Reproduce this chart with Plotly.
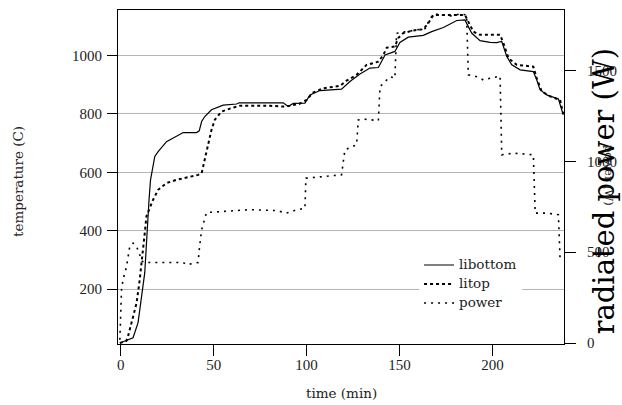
import plotly.graph_objects as go

# ---- data ----
time_bottom = [-0.5, 6.6, 9.3, 11.1, 12.9, 15.2, 16.0, 18.3, 20.1, 24.6, 30.0, 33.6, 40.8, 42.2, 43.5,
               45.2, 48.8, 51.5, 55.1, 62.3, 63.7, 87.4, 90.1, 92.8, 96.4, 99.1, 101.8, 107.2, 118.8,
               123.3, 128.7, 134.1, 138.6, 142.2, 147.5, 150.2, 154.7, 162.8, 167.3, 173.6, 180.8,
               185.2, 187.0, 188.8, 193.3, 198.7, 202.3, 205.0, 207.7, 210.4, 214.9, 222.0, 223.8,
               225.6, 229.2, 235.5, 237.8]
temp_bottom = [15, 33, 85, 175, 256, 506, 574, 654, 671, 705, 725, 736, 736, 742, 774,
               791, 814, 822, 830, 834, 838, 838, 825, 836, 838, 837, 865, 880, 885,
               911, 937, 957, 959, 1002, 1014, 1045, 1063, 1069, 1082, 1096, 1120,
               1122, 1099, 1077, 1051, 1045, 1044, 1048, 997, 968, 951, 945, 917,
               883, 865, 851, 803]

time_top = [-0.5, 3.0, 3.9, 5.8, 8.5, 10.2, 11.7, 12.9, 13.8, 17.4, 20.1, 24.6, 30.0, 36.3, 41.6,
            43.5, 45.2, 47.0, 48.8, 50.6, 54.2, 60.5, 64.1, 80.2, 87.0, 91.0, 96.0, 100.0, 103.5,
            109.0, 118.0, 121.5, 126.9, 132.3, 138.6, 141.3, 143.1, 147.5, 149.3, 152.0, 157.4,
            162.8, 165.5, 168.2, 173.6, 179.0, 185.2, 187.0, 189.7, 193.3, 204.1, 205.9, 208.6,
            213.1, 222.0, 223.8, 226.5, 231.0, 236.4, 238.2]
temp_top = [15, 22, 38, 84, 152, 232, 312, 392, 449, 506, 540, 563, 574, 582, 591,
            597, 643, 700, 745, 780, 808, 822, 828, 828, 825, 828, 834, 848, 873,
            888, 896, 914, 934, 968, 979, 1002, 1027, 1031, 1060, 1077, 1086,
            1090, 1111, 1139, 1139, 1139, 1139, 1116, 1082, 1071, 1071, 1042, 991,
            968, 962, 923, 877, 860, 848, 797]

time_power = [-0.5, 0.4, 1.2, 3.1, 4.8, 6.6, 8.5, 10.2, 11.5, 12.9, 33.6, 35.4, 41.6, 42.4, 43.5,
              46.1, 56.9, 69.5, 83.8, 89.2, 94.6, 99.1, 99.6, 107.2, 118.8, 120.6, 126.9, 127.8,
              131.4, 138.6, 139.5, 144.9, 147.5, 148.4, 153.8, 159.2, 164.6, 165.5, 168.2, 173.6,
              177.2, 182.6, 186.1, 187.0, 191.5, 195.1, 198.7, 204.1, 205.0, 211.3, 222.0, 223.0,
              229.2, 235.5, 236.4]
power = [18, 293, 348, 421, 531, 550, 531, 480, 450, 443, 443, 431, 443, 531, 623,
         718, 724, 734, 729, 715, 733, 742, 907, 916, 926, 1063, 1091, 1228,
         1232, 1224, 1411, 1466, 1458, 1705, 1714, 1723, 1733, 1769, 1811, 1806,
         1800, 1811, 1806, 1476, 1466, 1448, 1458, 1470, 1036, 1045, 1036, 715,
         715, 706, 458]

series_names = ["libottom", "litop", "power"]
temp_ticks = [200, 400, 600, 800, 1000]
power_ticks = [0, 500, 1000, 1500]
time_ticks = [0, 50, 100, 150, 200]
time_grid = [50, 100, 150, 200]

TICKFONT = "Liberation Serif"
LABELFONT = "DejaVu Serif"
TXT = "#222222"


def legend_label(s):
    return '<span style="font-size:13.5px">' + s + '</span>'


fig = go.Figure()
fig.add_trace(go.Scatter(x=time_bottom, y=temp_bottom, name=legend_label(series_names[0]),
                         mode="lines", line=dict(color="black", width=1.2, dash="solid")))
fig.add_trace(go.Scatter(x=time_top, y=temp_top, name=legend_label(series_names[1]),
                         mode="lines", line=dict(color="black", width=2, dash="dot")))
fig.add_trace(go.Scatter(x=time_power, y=power, name=legend_label(series_names[2]),
                         mode="lines", yaxis="y2",
                         line=dict(color="black", width=1.6, dash="2px,5px")))

xr = [-1.5, 238.5]
fig.update_layout(
    width=622, height=405,
    margin=dict(l=118, r=58, t=10, b=61, autoexpand=False),
    paper_bgcolor="white", plot_bgcolor="white",
    font=dict(family=TICKFONT, size=15, color=TXT),
    showlegend=True,
    legend=dict(x=0.675, y=0.28, xanchor="left", yanchor="top", bgcolor="white",
                borderwidth=0, font=dict(family=LABELFONT, size=11, color=TXT),
                tracegroupgap=0, itemwidth=30),
    xaxis=dict(range=xr, tickvals=time_ticks, showgrid=False, zeroline=False,
               automargin=False,
               showline=True, linecolor="black", linewidth=1.2, mirror=True,
               ticks="outside", ticklen=11, tickcolor="black", tickwidth=1.2,
               ticklabelstandoff=-4,
               tickfont=dict(family=TICKFONT, size=15, color=TXT)),
    xaxis2=dict(range=xr, overlaying="x", tickvals=time_grid, showgrid=True,
                automargin=False,
                gridcolor="#b4b4b4", gridwidth=1, showticklabels=False, ticks="",
                zeroline=False, showline=False),
    yaxis=dict(range=[11.6, 1156], tickvals=temp_ticks, showgrid=True,
               automargin=False,
               gridcolor="#b4b4b4", gridwidth=1, zeroline=False,
               showline=True, linecolor="black", linewidth=1.2,
               ticks="outside", ticklen=10, tickcolor="black", tickwidth=1.2,
               ticklabelstandoff=2,
               tickfont=dict(family=TICKFONT, size=15, color=TXT)),
    yaxis2=dict(range=[-5.5, 1833], tickvals=power_ticks, overlaying="y", side="right",
                automargin=False,
                showgrid=False, zeroline=False, showline=True, linecolor="black",
                linewidth=1.2, ticks="outside", ticklen=11, tickcolor="black",
                tickwidth=1.2, ticklabelstandoff=8,
                tickfont=dict(family=TICKFONT, size=15, color=TXT)),
)

fig.add_annotation(text="time (min)", xref="paper", yref="paper", x=0.5, y=-0.146,
                   xanchor="center", yanchor="middle", showarrow=False,
                   font=dict(family=LABELFONT, size=13.5, color=TXT))
fig.add_annotation(text="temperature (C)", xref="paper", yref="paper", x=-0.224, y=0.4855,
                   xanchor="center", yanchor="middle", textangle=-90, showarrow=False,
                   font=dict(family=LABELFONT, size=13.5, color=TXT))
fig.add_annotation(text="radiated power (W)", xref="paper", yref="paper", x=1.0886, y=0.4556,
                   xanchor="center", yanchor="middle", textangle=-90, showarrow=False,
                   font=dict(family=LABELFONT, size=29, color="black"))
fig.add_annotation(text="power (W)", xref="paper", yref="paper", x=1.101, y=0.506,
                   xanchor="center", yanchor="middle", textangle=90, showarrow=False,
                   font=dict(family=LABELFONT, size=11.5, color=TXT))

fig.write_html("out.html", config={"displayModeBar": False},
               post_script="document.body.style.margin='0';")
